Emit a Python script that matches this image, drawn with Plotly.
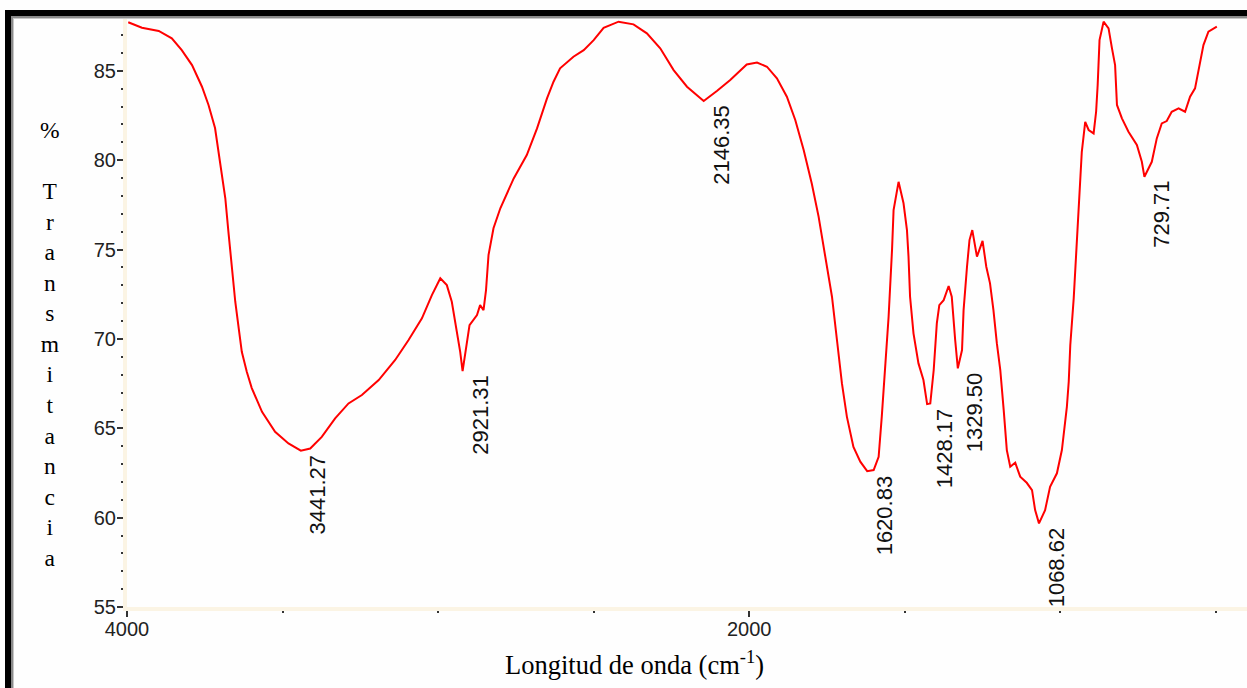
import plotly.graph_objects as go

# ---- data ----
wavenumber = [3996, 3952, 3898, 3856, 3824, 3791, 3759, 3738, 3717, 3700, 3684, 3674, 3663, 3652,
              3641, 3631, 3615, 3599, 3566, 3524, 3481, 3441.27, 3411, 3374, 3331, 3288, 3245, 3191,
              3138, 3095, 3052, 3020, 2993, 2972, 2956, 2940, 2929, 2921.31, 2910, 2899, 2875, 2865,
              2854, 2846, 2838, 2822, 2800, 2757, 2715, 2682, 2650, 2629, 2608, 2565, 2532, 2500,
              2468, 2420, 2372, 2329, 2286, 2243, 2200, 2146.35, 2104, 2061, 2008, 1975, 1943, 1911,
              1879, 1852, 1825, 1799, 1777, 1756, 1734, 1718, 1702, 1686, 1665, 1643, 1620.83, 1600,
              1584, 1574, 1563, 1552, 1541, 1536, 1520, 1504, 1493, 1488, 1483, 1472, 1456, 1440,
              1428.17, 1418, 1407, 1397, 1389, 1375, 1359, 1349, 1338, 1329.50, 1316, 1311, 1300,
              1292, 1283, 1268, 1250, 1238, 1226, 1215, 1204, 1193, 1182, 1172, 1161, 1145, 1129,
              1108, 1091, 1081, 1068.62, 1049, 1033, 1011, 995, 979, 973, 968, 957, 947, 941, 931,
              920, 909, 893, 885, 880, 874, 861, 845, 834, 824, 818, 802, 781, 754, 738, 729.71, 706,
              690, 674, 658, 642, 620, 599, 583, 567, 551, 540, 524, 497]
transmittance = [87.72, 87.41, 87.23, 86.82, 86.16, 85.32, 84.11, 83.09, 81.80, 79.91, 77.87, 75.99,
                 73.96, 72.08, 70.61, 69.28, 68.16, 67.25, 65.92, 64.80, 64.15, 63.75, 63.87, 64.52,
                 65.55, 66.39, 66.86, 67.70, 68.82, 69.94, 71.15, 72.45, 73.39, 73.01, 72.08, 70.40,
                 69.28, 68.20, 69.47, 70.77, 71.33, 71.89, 71.61, 72.73, 74.69, 76.19, 77.31, 78.98,
                 80.29, 81.78, 83.46, 84.39, 85.14, 85.79, 86.16, 86.72, 87.41, 87.75, 87.60, 87.10,
                 86.26, 85.04, 84.11, 83.31, 83.87, 84.49, 85.36, 85.46, 85.23, 84.58, 83.55, 82.25,
                 80.57, 78.70, 76.84, 74.60, 72.36, 69.94, 67.51, 65.64, 63.96, 63.13, 62.60, 62.66,
                 63.40, 65.64, 68.44, 71.24, 74.97, 77.21, 78.79, 77.59, 76.09, 74.60, 72.36, 70.31,
                 68.63, 67.70, 66.35, 66.39, 68.26, 70.87, 71.89, 72.17, 72.96, 72.36, 69.94, 68.35,
                 69.38, 71.61, 74.04, 75.53, 76.09, 74.60, 75.49, 74.04, 73.11, 71.61, 69.75, 68.26,
                 66.02, 63.78, 62.85, 63.07, 62.29, 61.95, 61.54, 60.42, 59.68, 60.42, 61.73, 62.48,
                 63.78, 66.20, 67.60, 69.66, 72.27, 75.25, 77.31, 80.47, 82.15, 81.69, 81.50, 82.71,
                 84.21, 86.72, 87.75, 87.38, 86.26, 85.32, 83.09, 82.34, 81.59, 80.85, 79.91, 79.07,
                 79.91, 81.22, 82.06, 82.19, 82.71, 82.90, 82.71, 83.55, 84.02, 85.51, 86.44, 87.19,
                 87.47]

peak_wn = [3441.27, 2921.31, 2146.35, 1620.83, 1428.17, 1329.50, 1068.62, 729.71]
peak_T = [63.75, 68.20, 83.31, 62.60, 66.35, 68.35, 59.68, 79.07]

x_tickvals = [4000, 2000]
x_ticktext = ["4000", "2000"]
y_tickvals = [55, 60, 65, 70, 75, 80, 85]

y_title = "%<br> <br>" + "<br>".join(list("Transmitancia"))
x_title = "Longitud de onda (cm<sup>-1</sup>)"

# ---- layout geometry ----
W, H = 1247, 688
ML, MR, MT, MB = 127, 0, 19, 81
PW, PH = W - ML - MR, H - MT - MB


def px_x(px):
    return (px - ML) / PW


def px_y(py):
    return (H - MB - py) / PH


fig = go.Figure()
fig.add_trace(go.Scatter(x=wavenumber, y=transmittance, mode="lines",
                         line=dict(color="#FF0000", width=2), hoverinfo="skip"))

label_font = dict(family="Liberation Sans, Arial, sans-serif", size=22, color="#111111")
for wn, t in zip(peak_wn, peak_T):
    fig.add_annotation(x=wn, y=t, text=f"{wn:.2f}", textangle=-90, showarrow=False,
                       xanchor="center", yanchor="top", xshift=17, yshift=-2, font=label_font)

fig.add_annotation(xref="paper", yref="paper", x=px_x(50), y=px_y(344), text=y_title,
                   showarrow=False, xanchor="center", yanchor="middle",
                   font=dict(family="Liberation Serif, Times New Roman, serif", size=23.5, color="#000000"))
fig.add_annotation(xref="paper", yref="paper", x=px_x(634), y=px_y(663), text=x_title,
                   showarrow=False, xanchor="center", yanchor="middle",
                   font=dict(family="Liberation Serif, Times New Roman, serif", size=26.5, color="#000000"))

# window frame (black + grey bevel)
frame = [
    (5, 10, 11, H, "#000000"), (5, 10, W, 16, "#000000"),
    (11, 16, 13, H, "#8A8A8A"), (11, 16, W, 18, "#8A8A8A"),
    (13, 18, 14, H, "#C8C8C8"), (13, 18, W, 19, "#C8C8C8"),
]
for x0, y0, x1, y1, c in frame:
    fig.add_shape(type="rect", xref="paper", yref="paper", x0=px_x(x0), x1=px_x(x1),
                  y0=px_y(y0), y1=px_y(y1), fillcolor=c, line=dict(width=0), layer="above")

tick_font = dict(family="Liberation Sans, Arial, sans-serif", size=20, color="#222222")
fig.update_layout(
    width=W, height=H, margin=dict(l=ML, r=MR, t=MT, b=MB),
    paper_bgcolor="#FEFEFE", plot_bgcolor="#FEFEFE", showlegend=False,
    xaxis=dict(range=[4000, 400], tickvals=x_tickvals, ticktext=x_ticktext, showgrid=False,
               zeroline=False, showline=True, linecolor="#FBF4E4", linewidth=4,
               ticks="outside", ticklen=6, tickwidth=1.5, tickcolor="#333333",
               tickfont=tick_font, ticklabelstandoff=-5,
               minor=dict(dtick=500, tick0=0, ticks="outside", ticklen=2, tickwidth=2,
                          tickcolor="#333333", showgrid=False)),
    yaxis=dict(range=[55, 87.9], tickvals=y_tickvals, showgrid=False, zeroline=False,
               showline=True, linecolor="#FBF4E4", linewidth=4,
               ticks="outside", ticklen=6, tickwidth=1.5, tickcolor="#333333",
               tickfont=tick_font, ticklabelstandoff=-3,
               minor=dict(dtick=1, tick0=0, ticks="outside", ticklen=2, tickwidth=2,
                          tickcolor="#333333", showgrid=False)),
)

fig.write_html("out.html")
